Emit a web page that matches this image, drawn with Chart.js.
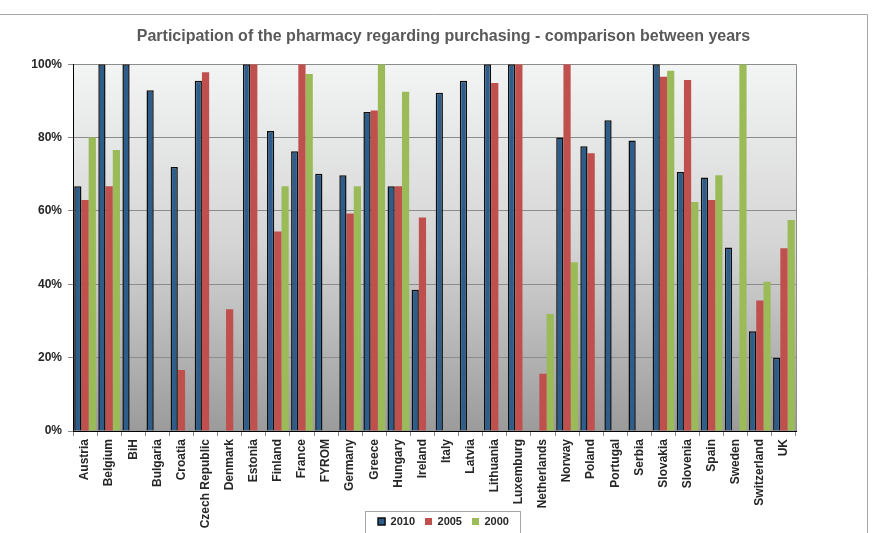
<!DOCTYPE html>
<html>
<head>
<meta charset="utf-8">
<script src="https://cdn.jsdelivr.net/npm/chart.js@4.4.1/dist/chart.umd.min.js"></script>
<style>
  html, body { margin: 0; padding: 0; background: #ffffff; }
  #wrap { width: 876px; height: 533px; position: relative; }
</style>
</head>
<body>
<div id="wrap"><canvas id="c" width="876" height="533"></canvas></div>
<script>
const categories = ["Austria","Belgium","BiH","Bulgaria","Croatia","Czech Republic","Denmark","Estonia","Finland","France","FYROM","Germany","Greece","Hungary","Ireland","Italy","Latvia","Lithuania","Luxemburg","Netherlands","Norway","Poland","Portugal","Serbia","Slovakia","Slovenia","Spain","Sweden","Switzerland","UK"];
const values2010 = [66.7,100,100,92.9,72.0,95.5,null,100,81.8,76.3,70.1,69.7,87.0,66.7,38.5,92.2,95.5,100,100,null,80.0,77.6,84.7,79.2,100,70.6,69.1,50.0,27.2,20.0];
const values2005 = [63.0,66.7,null,null,16.6,97.8,33.2,100,54.4,100,null,59.3,87.4,66.7,58.2,null,null,94.9,100,15.6,100,75.7,null,null,96.6,95.7,63.0,null,35.6,49.8];
const values2000 = [80.0,76.6,null,null,null,null,null,null,66.7,97.3,null,66.7,100,92.5,null,null,null,null,null,31.9,46.0,null,null,null,98.2,62.4,69.7,100,40.7,57.5];
const seriesLabels = ["2010","2005","2000"];
const yTicks = [0,20,40,60,80,100];

const FONT = "'Liberation Sans', Arial, Helvetica, sans-serif";

const decor = {
  id: 'decor',
  beforeDraw(chart) {
    const {ctx, chartArea: a} = chart;
    // let rotated category labels run below the axis box (as in the reference)
    if (chart.scales.x) chart.scales.x.bottom = chart.height;
    ctx.save();
    const g = ctx.createLinearGradient(0, a.top, 0, a.bottom);
    g.addColorStop(0, '#f3f4f4');
    g.addColorStop(0.5, '#d4d4d4');
    g.addColorStop(1, '#9b9b9b');
    ctx.fillStyle = g;
    ctx.fillRect(a.left, a.top, a.right - a.left, a.bottom - a.top);
    ctx.restore();
  },
  afterDraw(chart) {
    const {ctx, chartArea: a} = chart;
    ctx.save();
    ctx.strokeStyle = '#a6a6a6';
    ctx.lineWidth = 1;
    ctx.beginPath();
    ctx.moveTo(0, 14.5);
    ctx.lineTo(867.5, 14.5);
    ctx.lineTo(867.5, chart.height);
    ctx.stroke();
    ctx.strokeStyle = '#8c8c8c';
    ctx.beginPath();
    ctx.moveTo(Math.round(a.right) + 0.5, a.top);
    ctx.lineTo(Math.round(a.right) + 0.5, a.bottom);
    ctx.stroke();
    const lg = chart.legend;
    if (lg && lg.legendHitBoxes && lg.legendHitBoxes.length) {
      const hb = lg.legendHitBoxes;
      let l = Infinity, r = -Infinity, t = Infinity, b = -Infinity;
      hb.forEach(h => { l = Math.min(l, h.left); r = Math.max(r, h.left + h.width); t = Math.min(t, h.top); b = Math.max(b, h.top + h.height); });
      const bx = Math.round(l - 13) + 0.5, by = Math.round(t - 5) + 0.5, bw = Math.round(r - l + 24), bh = Math.round(b - t + 11);
      ctx.strokeStyle = '#a6a6a6';
      ctx.strokeRect(bx, by, bw, bh);
    }
    ctx.restore();
  }
};

new Chart(document.getElementById('c'), {
  type: 'bar',
  data: {
    labels: categories,
    datasets: [
      { label: seriesLabels[0], data: values2010, backgroundColor: '#2c5d8b', borderColor: '#0d0d0d', borderWidth: 1.5 },
      { label: seriesLabels[1], data: values2005, backgroundColor: '#c0504d', borderColor: '#c0504d', borderWidth: 0 },
      { label: seriesLabels[2], data: values2000, backgroundColor: '#9bbb59', borderColor: '#9bbb59', borderWidth: 0 }
    ]
  },
  options: {
    responsive: false,
    animation: false,
    devicePixelRatio: 1,
    layout: { padding: { left: 20, right: 9, top: 0, bottom: -4 } },
    datasets: { bar: { categoryPercentage: 0.9, barPercentage: 1.0 } },
    plugins: {
      title: {
        display: true,
        text: 'Participation of the pharmacy regarding purchasing - comparison between years',
        color: '#595959',
        font: { family: FONT, size: 16, weight: 'bold' },
        padding: { top: 27, bottom: 18 }
      },
      legend: {
        display: true,
        position: 'bottom',
        labels: {
          color: '#262626',
          font: { family: FONT, size: 11, weight: 'bold' },
          boxWidth: 7,
          boxHeight: 7,
          padding: 10
        }
      },
      tooltip: { enabled: false }
    },
    scales: {
      x: {
        ticks: {
          color: '#262626',
          font: { family: FONT, size: 12, weight: 'bold' },
          minRotation: 90,
          maxRotation: 90,
          autoSkip: false,
          padding: 3
        },
        grid: { drawOnChartArea: false, drawTicks: true, tickLength: 5, color: '#8c8c8c' },
        border: { color: '#000000', width: 1 },
        afterFit(scale) { scale.height = 75; }
      },
      y: {
        min: 0,
        max: 100,
        afterBuildTicks(scale) { scale.ticks = yTicks.map(v => ({ value: v })); },
        ticks: {
          color: '#262626',
          font: { family: FONT, size: 12, weight: 'bold' },
          padding: 6,
          callback: v => v + '%'
        },
        grid: { color: '#8c8c8c', tickLength: 5, drawTicks: true },
        border: { color: '#000000', width: 1 },
        afterFit(scale) { scale.width = 53; }
      },
      yR: {
        position: 'right',
        display: true,
        min: 0,
        max: 100,
        ticks: { display: false },
        grid: { display: false, drawOnChartArea: false, drawTicks: false },
        border: { display: false },
        afterFit(scale) { scale.width = 71; }
      }
    }
  },
  plugins: [decor]
});
</script>
</body>
</html>
